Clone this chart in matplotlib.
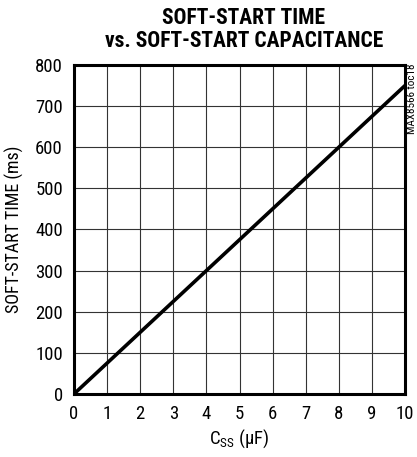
import matplotlib
matplotlib.use("Agg")
import matplotlib.pyplot as plt

# data
css_uf = [0, 10]
soft_start_ms = [0, 750]
x_ticks = list(range(0, 11))
y_ticks = list(range(0, 801, 100))

body_font = ['Roboto Condensed', 'Archivo Narrow', 'DejaVu Sans']
title_font = ['Roboto Condensed', 'Archivo Narrow', 'DejaVu Sans']
plt.rcParams['font.family'] = body_font
plt.rcParams['mathtext.fontset'] = 'custom'
plt.rcParams['mathtext.rm'] = 'Roboto Condensed'
plt.rcParams['mathtext.it'] = 'Roboto Condensed'

fig = plt.figure(figsize=(4.17, 4.57), dpi=100)
ax = fig.add_axes([0.1775, 0.138, 0.794, 0.72])

ax.plot(css_uf, soft_start_ms, color='black', linewidth=2.6, solid_capstyle='butt')

ax.set_xlim(0, 10)
ax.set_ylim(0, 800)
ax.set_xticks(x_ticks)
ax.set_yticks(y_ticks)
ax.grid(True, color='#333333', linewidth=0.8)
ax.tick_params(length=0, labelsize=13.5, pad=8)
for s in ax.spines.values():
    s.set_linewidth(2.2)

ax.set_xlabel(r"C$_{\mathregular{SS}}$ ($\mathregular{\mu}$F)", fontsize=13.5, labelpad=3)
ax.set_ylabel("SOFT-START TIME (ms)", fontsize=13, labelpad=8)

fig.text(0.585, 0.985, "SOFT-START TIME\nvs. SOFT-START CAPACITANCE",
         ha='center', va='top', fontsize=15.5, fontweight=900, linespacing=1.05,
         family=title_font)
fig.text(0.988, 0.86, "MAX8566 toc18", rotation=90, ha='center', va='top', fontsize=8)

fig.savefig("out.png", dpi=100)
